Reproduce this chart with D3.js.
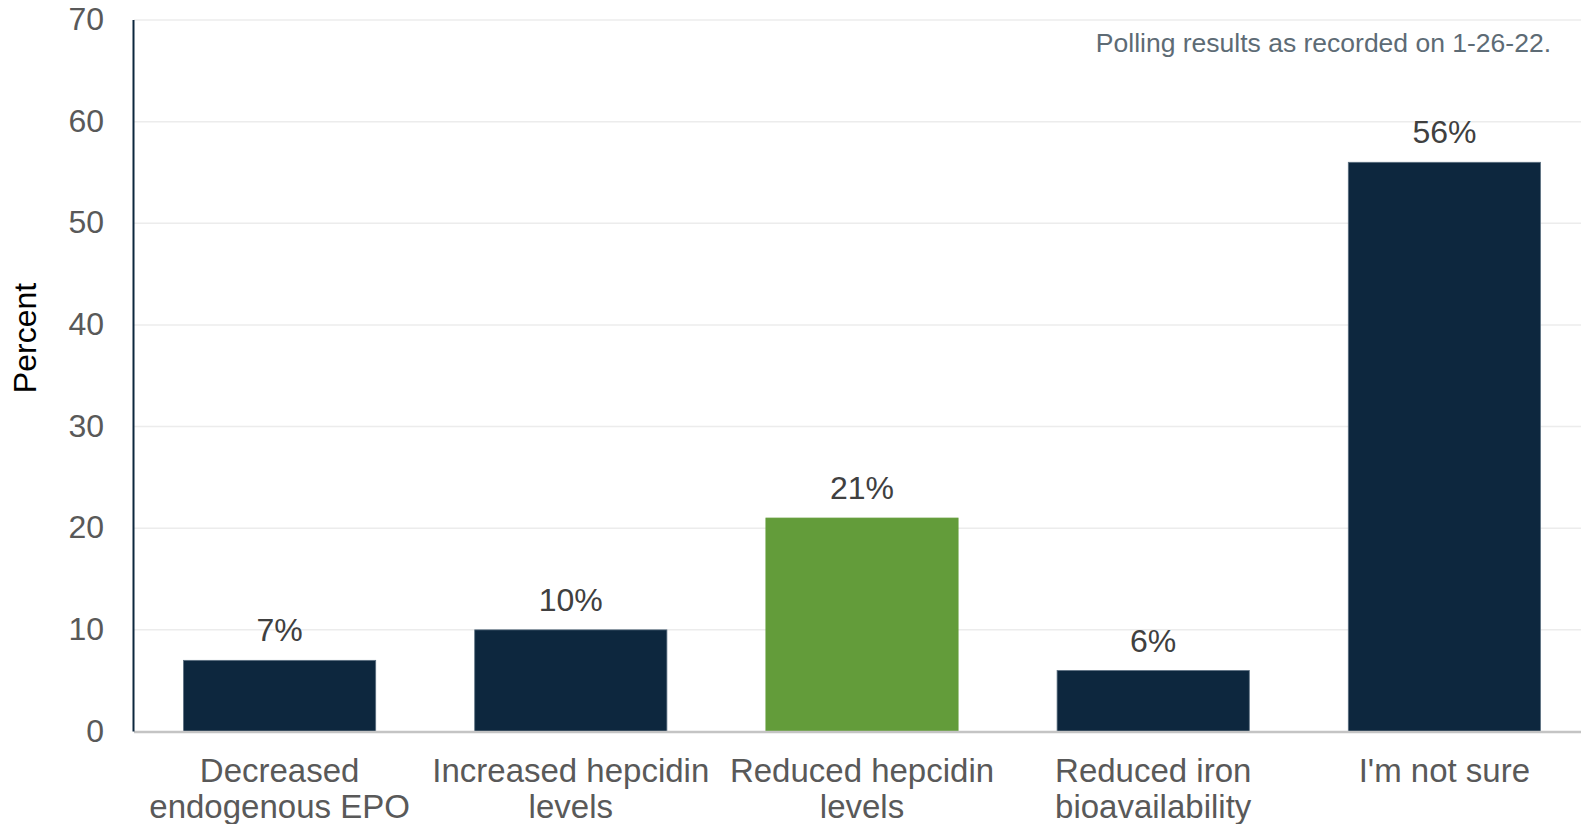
<!DOCTYPE html>
<html>
<head>
<meta charset="utf-8">
<script src="https://cdn.jsdelivr.net/npm/d3@7"></script>
<style>
  html, body { margin: 0; padding: 0; background: #fff; }
  svg { display: block; font-family: "Liberation Sans", Arial, sans-serif; }
</style>
</head>
<body>
<svg id="chart" width="1581" height="824"></svg>
<script>
// Poll answers and share of respondents (%)
const categories = [
  ["Decreased", "endogenous EPO"],
  ["Increased hepcidin", "levels"],
  ["Reduced hepcidin", "levels"],
  ["Reduced iron", "bioavailability"],
  ["I'm not sure"]
];
const values = [7, 10, 21, 6, 56];
const highlighted = [false, false, true, false, false];
const yTicks = [0, 10, 20, 30, 40, 50, 60, 70];
const note = "Polling results as recorded on 1-26-22.";
const yTitle = "Percent";

const svg = d3.select("#chart");
const W = 1581;
const plotTop = 20, plotBottom = 731.5, plotLeft = 134;

const x = d3.scaleBand()
  .domain(d3.range(values.length))
  .range([plotLeft, 1590])
  .paddingInner(0.34)
  .paddingOuter(0.17);

const y = d3.scaleLinear().domain([0, 70]).range([plotBottom, plotTop]);

// horizontal gridlines
svg.append("g")
  .selectAll("line")
  .data(yTicks.filter(t => t > 0))
  .join("line")
  .attr("x1", plotLeft).attr("x2", W)
  .attr("y1", d => y(d)).attr("y2", d => y(d))
  .attr("stroke", "#ececec")
  .attr("stroke-width", 1.5);

// y axis tick labels
const yAxis = d3.axisLeft(y).tickValues(yTicks).tickSize(0).tickPadding(0);
const gy = svg.append("g").attr("transform", "translate(104,0)").call(yAxis);
gy.select(".domain").remove();
gy.selectAll("text")
  .attr("font-size", 32)
  .attr("fill", "#595959")
  .attr("font-family", "Liberation Sans, Arial, sans-serif")
  .attr("dy", "0.3em");

// bars
svg.append("g")
  .selectAll("rect")
  .data(values)
  .join("rect")
  .attr("x", (d, i) => x(i))
  .attr("width", x.bandwidth())
  .attr("y", d => y(d))
  .attr("height", d => y(0) - y(d))
  .attr("fill", (d, i) => highlighted[i] ? "#639c3a" : "#0d273e")
  .attr("stroke", (d, i) => highlighted[i] ? "#639c3a" : "#5b6f80")
  .attr("stroke-width", 0.8);

// value labels
svg.append("g")
  .selectAll("text")
  .data(values)
  .join("text")
  .attr("x", (d, i) => x(i) + x.bandwidth() / 2)
  .attr("y", d => y(d) - 19)
  .attr("text-anchor", "middle")
  .attr("font-size", 32)
  .attr("fill", "#404040")
  .text(d => d + "%");

// baseline and left axis line
svg.append("line")
  .attr("x1", plotLeft).attr("x2", W)
  .attr("y1", y(0) + 0.5).attr("y2", y(0) + 0.5)
  .attr("stroke", "#c4c4c4").attr("stroke-width", 2.5);
svg.append("line")
  .attr("x1", 133.5).attr("x2", 133.5)
  .attr("y1", plotTop).attr("y2", y(0))
  .attr("stroke", "#0d273e").attr("stroke-width", 2);

// category labels
const cat = svg.append("g")
  .selectAll("text")
  .data(categories)
  .join("text")
  .attr("x", (d, i) => x(i) + x.bandwidth() / 2)
  .attr("y", 782)
  .attr("text-anchor", "middle")
  .attr("font-size", 33)
  .attr("fill", "#595959");
cat.selectAll("tspan")
  .data(d => d)
  .join("tspan")
  .attr("x", function () { return d3.select(this.parentNode).attr("x"); })
  .attr("dy", (d, i) => i === 0 ? 0 : 35.5)
  .text(d => d);

// y axis title
svg.append("text")
  .attr("transform", "translate(36,338) rotate(-90)")
  .attr("text-anchor", "middle")
  .attr("font-size", 32)
  .attr("fill", "#000")
  .text(yTitle);

// note
svg.append("text")
  .attr("x", 1551)
  .attr("y", 52)
  .attr("text-anchor", "end")
  .attr("font-size", 26.5)
  .attr("fill", "#5d6b75")
  .text(note);
</script>
</body>
</html>
